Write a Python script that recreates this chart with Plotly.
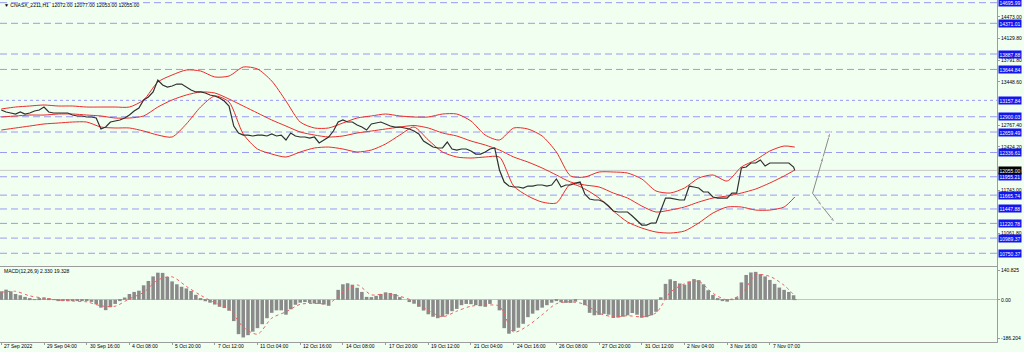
import plotly.graph_objects as go

# ---------------- data ----------------
# H1 bar index (sampled every 4 bars) and close prices
price_x = list(range(0, 669, 4)) + [669]
close = [13006, 12975, 12959, 12943, 12975, 12943, 12959, 12990, 13006, 13053,
         12975, 12959, 12959, 12959, 12959, 12927, 12912, 12912, 12896, 12896,
         12880, 12707, 12738, 12817, 12833, 12849, 12880, 12927, 12990, 13038,
         13164, 13211, 13290, 13478, 13400, 13368, 13384, 13415, 13415, 13368,
         13321, 13290, 13290, 13274, 13242, 13227, 13195, 13148, 13069, 12754,
         12644, 12612, 12612, 12597, 12612, 12612, 12597, 12628, 12597, 12612,
         12534, 12644, 12597, 12581, 12581, 12565, 12581, 12487, 12534, 12581,
         12675, 12817, 12849, 12817, 12817, 12770, 12738, 12691, 12786, 12801,
         12817, 12786, 12754, 12738, 12738, 12723, 12707, 12675, 12628, 12518,
         12471, 12423, 12408, 12408, 12502, 12392, 12376, 12392, 12392, 12361,
         12313, 12313, 12345, 12392, 12408, 12062, 11872, 11809, 11794, 11794,
         11778, 11809, 11809, 11825, 11825, 11809, 11825, 11920, 11794, 11825,
         11825, 11857, 11872, 11683, 11605, 11589, 11589, 11557, 11494, 11416,
         11400, 11400, 11400, 11337, 11258, 11195, 11195, 11227, 11227, 11431,
         11620, 11620, 11605, 11589, 11589, 11809, 11794, 11778, 11715, 11715,
         11636, 11620, 11620, 11620, 11699, 11699, 12093, 12109, 12172, 12172,
         12219, 12124, 12172, 12172, 12172, 12172, 12172, 12109, 12055]

# Bollinger bands (sampled every 12 bars)
band_x = list(range(0, 661, 12)) + [669]
bb_upper = [13022, 13053, 13069, 13085, 13069, 13069, 13053, 13053, 13053, 13053,
            13164, 13447, 13557, 13636, 13620, 13526, 13541, 13683, 13652, 13463,
            13148, 12817, 12723, 12723, 12801, 12880, 12912, 12943, 12912, 12896,
            12896, 12943, 12943, 12833, 12612, 12534, 12723, 12707, 12597, 12345,
            11967, 11951, 12030, 12030, 12014, 11920, 11731, 11699, 11778, 11935,
            11983, 11888, 12109, 12219, 12361, 12439, 12423]
bb_middle = [12896, 12912, 12927, 12927, 12943, 12943, 12927, 12912, 12880, 12880,
             12912, 13053, 13164, 13242, 13290, 13274, 13179, 13069, 12959, 12849,
             12754, 12660, 12612, 12581, 12597, 12644, 12675, 12707, 12738, 12762,
             12723, 12644, 12597, 12518, 12455, 12376, 12266, 12187, 12093, 11983,
             11872, 11825, 11794, 11699, 11620, 11494, 11400, 11431, 11479, 11557,
             11620, 11652, 11699, 11762, 11857, 11967, 12061]
bb_lower = [12691, 12723, 12754, 12786, 12801, 12817, 12817, 12738, 12723, 12723,
            12675, 12612, 12581, 12786, 13053, 13227, 13132, 12628, 12392, 12313,
            12266, 12345, 12408, 12423, 12392, 12345, 12376, 12471, 12612, 12738,
            12534, 12345, 12266, 12250, 12266, 12266, 11809, 11652, 11557, 11542,
            11841, 11762, 11620, 11416, 11243, 11148, 11085, 11069, 11101, 11227,
            11384, 11479, 11479, 11431, 11431, 11479, 11636]

# MACD(12,26,9) main (histogram, on price_x) and signal (on band_x)
macd_main = [41, 49, 41, 28, 22, 14, 7, 2, 8, 11,
             8, 2, -4, -6, -6, -2, -3, -2, -5, -10,
             -22, -38, -50, -36, -20, -2, 11, 28, 38, 44,
             70, 91, 113, 131, 130, 111, 89, 75, 63, 55,
             43, 24, 5, -7, -14, -23, -34, -40, -53, -103,
             -166, -182, -171, -154, -137, -118, -89, -63, -51, -51,
             -72, -46, -24, -14, -11, -15, -18, -20, -23, -29,
             0, 48, 75, 80, 73, 58, 38, 14, 13, 19,
             28, 36, 33, 28, 13, 0, -11, -19, -34, -52,
             -70, -82, -89, -82, -70, -55, -44, -26, -20, -21,
             -26, -31, -34, -20, 0, -51, -137, -164, -152, -135,
             -116, -84, -67, -51, -38, -26, -14, -6, -12, -15,
             -15, -9, 0, -26, -63, -75, -73, -68, -72, -88,
             -86, -82, -75, -64, -72, -87, -84, -75, -58, 12,
             77, 99, 91, 79, 73, 89, 100, 95, 75, 46,
             23, 8, -4, -9, -1, 12, 84, 120, 132, 135,
             124, 113, 96, 77, 59, 48, 38, 22, 2.33]
macd_signal = [36, 41, 19, 8, -1, -6, -10, -29, -31, 5,
               36, 96, 111, 65, 22, -14, -43, -132, -166, -89,
               -58, -22, -17, -18, 36, 72, 24, 29, 17, -7,
               -51, -82, -55, -31, -26, -31, -156, -125, -72, -19,
               -10, -22, -65, -82, -77, -82, -63, 36, 77, 89,
               31, 0, 26, 120, 113, 70, 19.328]

# horizontal levels (blue labelled lines)
levels = [14695.99, 14371.01, 13887.88, 13644.84, 13157.84, 12900.03, 12659.49,
          12336.61, 11955.21, 11665.74, 11447.88, 11220.78, 10989.37, 10750.37]
dotted_levels = [13157.84]
current_price = 12055.00

# projection arrows (bar index, price)
proj_up_x = [684, 693, 699]
proj_up_y = [11695, 12276, 12664]
proj_dn_x = [684, 692, 703]
proj_dn_y = [11695, 11490, 11232]

# axes
price_ticks = [14473.00, 14129.80, 13791.80, 13448.60, 12767.40, 12424.20, 11743.00, 11061.80]
macd_ticks = [140.825, 0.0, -186.204]
macd_tick_text = ["140.825", "0.00", "-186.204"]
time_tick_pos = list(range(0, 649, 36))
time_tick_text = ["27 Sep 2022", "29 Sep 04:00", "30 Sep 16:00", "4 Oct 08:00", "5 Oct 20:00",
                  "7 Oct 12:00", "11 Oct 04:00", "12 Oct 16:00", "14 Oct 08:00", "17 Oct 20:00",
                  "19 Oct 12:00", "21 Oct 04:00", "24 Oct 16:00", "26 Oct 08:00", "27 Oct 20:00",
                  "31 Oct 12:00", "2 Nov 04:00", "3 Nov 16:00", "7 Nov 07:00"]

title_text = "\u25BC CNASX_2211,H1  12072.00 12077.00 12053.00 12055.00"
macd_text = "MACD(12,26,9) 2.330 19.328"

# ---------------- style ----------------
BG = "#F0FFF0"
FONT = "Liberation Sans, Arial, sans-serif"
FS = 5
LEVEL_COLOR = "#9A9AF5"
BAND_COLOR = "#EE2A2A"
FRAME = "#9C9C9C"

fig = go.Figure()

band_line = dict(color=BAND_COLOR, width=1, shape="spline", smoothing=0.7)
for band in (bb_upper, bb_middle, bb_lower):
    fig.add_trace(go.Scatter(x=band_x, y=band, mode="lines", line=band_line,
                             hoverinfo="skip", xaxis="x", yaxis="y"))

fig.add_trace(go.Scatter(x=price_x, y=close, mode="lines",
                         line=dict(color="#303030", width=1.2),
                         xaxis="x", yaxis="y"))

for px_, py_ in ((proj_up_x, proj_up_y), (proj_dn_x, proj_dn_y)):
    fig.add_trace(go.Scatter(x=px_, y=py_, mode="lines+markers",
                             line=dict(color="#8A8A8A", width=1),
                             marker=dict(symbol="arrow", size=[0, 6, 6], angleref="previous",
                                         color="#8A8A8A"),
                             xaxis="x", yaxis="y", hoverinfo="skip"))

fig.add_trace(go.Bar(x=price_x, y=macd_main, width=3.0,
                     marker=dict(color="#8A8A8A", line=dict(width=0)),
                     xaxis="x2", yaxis="y2"))
fig.add_trace(go.Scatter(x=band_x, y=macd_signal, mode="lines",
                         line=dict(color="#F06060", width=1, dash="dot", shape="spline", smoothing=0.8),
                         xaxis="x2", yaxis="y2"))

shapes = []
for lv in levels:
    shapes.append(dict(type="line", xref="paper", x0=0, x1=1, yref="y", y0=lv, y1=lv,
                       line=dict(color=LEVEL_COLOR, width=1,
                                 dash="dot" if lv in dotted_levels else "7px,4px"),
                       layer="below"))
shapes.append(dict(type="line", xref="paper", x0=0, x1=1, yref="y", y0=current_price, y1=current_price,
                   line=dict(color="#C8C8C8", width=1), layer="below"))

annotations = []
for lv in levels:
    annotations.append(dict(x=1, xref="paper", xanchor="left", xshift=1, y=lv, yref="y",
                            yanchor="middle", text=f"{lv:.2f}", showarrow=False,
                            bgcolor="#1414F0", borderpad=0.5,
                            font=dict(family=FONT, size=FS, color="white")))
annotations.append(dict(x=1, xref="paper", xanchor="left", xshift=1, y=current_price, yref="y",
                        yanchor="middle", text=f"{current_price:.2f}", showarrow=False,
                        bgcolor="#000000", borderpad=0.5,
                        font=dict(family=FONT, size=FS, color="white")))
for pos, txt in zip(time_tick_pos, time_tick_text):
    annotations.append(dict(x=pos, xref="x2", xanchor="left", xshift=1, y=-0.012, yref="paper",
                            yanchor="middle", text=txt, showarrow=False,
                            font=dict(family=FONT, size=FS, color="#000000")))
annotations.append(dict(x=0, xref="paper", xanchor="left", xshift=2, y=0.985, yref="paper",
                        yanchor="middle", text=title_text, showarrow=False,
                        font=dict(family=FONT, size=FS, color="#000000")))
annotations.append(dict(x=0, xref="paper", xanchor="left", xshift=2, y=0.207, yref="paper",
                        yanchor="middle", text=macd_text, showarrow=False,
                        font=dict(family=FONT, size=FS, color="#000000")))

axis_common = dict(showgrid=False, zeroline=False, showline=True, mirror=True,
                   linecolor=FRAME, linewidth=1)

fig.update_layout(
    width=1024, height=352,
    margin=dict(l=0, r=27, t=0, b=10),
    paper_bgcolor=BG, plot_bgcolor=BG,
    showlegend=False,
    font=dict(family=FONT, size=FS, color="#000000"),
    xaxis=dict(domain=[0, 1], range=[-1.1, 839.5], anchor="y", showticklabels=False,
               ticks="", **axis_common),
    yaxis=dict(domain=[0.2222, 1], range=[10550, 14738], side="right", anchor="x",
               tickvals=price_ticks, ticktext=[f"{v:.2f}" for v in price_ticks],
               ticks="outside", ticklen=2, tickcolor=FRAME,
               tickfont=dict(family=FONT, size=FS, color="#000000"), **axis_common),
    xaxis2=dict(domain=[0, 1], range=[-1.1, 839.5], anchor="y2", matches="x",
                showticklabels=False, tickvals=time_tick_pos, ticks="outside", ticklen=2,
                tickcolor=FRAME, **axis_common),
    yaxis2=dict(domain=[0, 0.219], range=[-204, 158], side="right", anchor="x2",
                tickvals=macd_ticks, ticktext=macd_tick_text,
                ticks="outside", ticklen=2, tickcolor=FRAME,
                tickfont=dict(family=FONT, size=FS, color="#000000"),
                showgrid=False, zeroline=True, zerolinecolor="#C4C4C4", zerolinewidth=1,
                showline=True, mirror=True, linecolor=FRAME, linewidth=1),
    shapes=shapes, annotations=annotations,
)

fig.write_html("out.html")
